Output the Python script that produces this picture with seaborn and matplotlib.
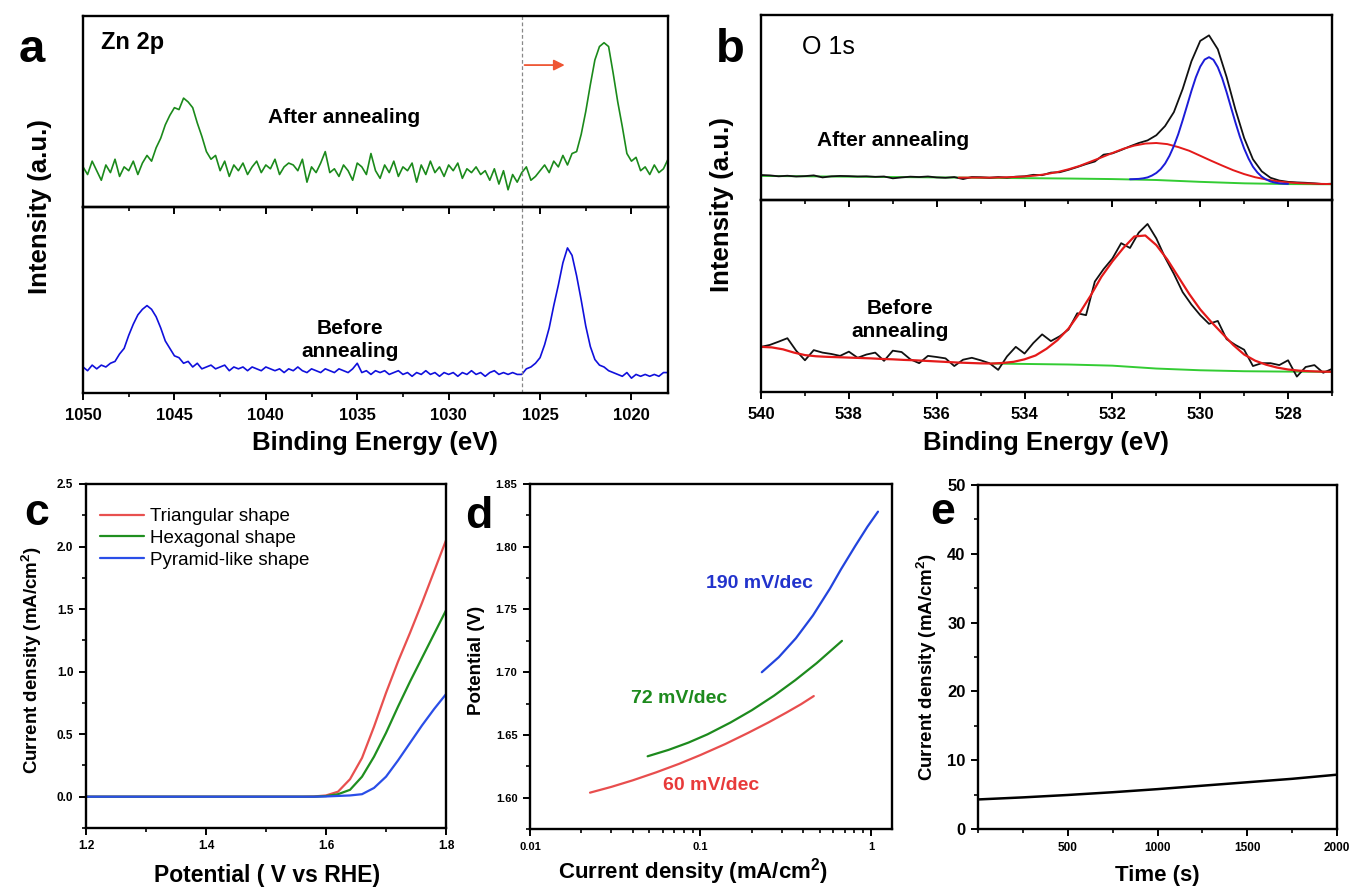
import numpy as np
import seaborn as sns
import matplotlib.pyplot as plt
from matplotlib.ticker import MultipleLocator, FormatStrFormatter, LogLocator, NullFormatter, FixedLocator, FixedFormatter

# ---------------- data ----------------
# panel a: Zn 2p, normalised intensity on a 0.25 eV grid from 1050 to 1018 eV
zn_after = [0.21, 0.17, 0.24, 0.19, 0.14, 0.22, 0.18, 0.25, 0.16, 0.21, 0.19, 0.24, 0.17,
            0.23, 0.27, 0.24, 0.31, 0.36, 0.43, 0.48, 0.52, 0.51, 0.57, 0.55, 0.52, 0.44,
            0.37, 0.29, 0.25, 0.27, 0.19, 0.24, 0.16, 0.22, 0.19, 0.23, 0.17, 0.21, 0.24,
            0.18, 0.22, 0.20, 0.25, 0.17, 0.21, 0.23, 0.22, 0.19, 0.25, 0.13, 0.21, 0.18,
            0.23, 0.29, 0.18, 0.20, 0.16, 0.22, 0.19, 0.14, 0.23, 0.21, 0.17, 0.28, 0.19,
            0.15, 0.22, 0.18, 0.24, 0.16, 0.21, 0.19, 0.23, 0.13, 0.22, 0.17, 0.24, 0.18,
            0.21, 0.16, 0.22, 0.19, 0.23, 0.15, 0.20, 0.18, 0.21, 0.17, 0.19, 0.14, 0.20,
            0.12, 0.19, 0.09, 0.17, 0.13, 0.18, 0.21, 0.14, 0.16, 0.19, 0.22, 0.18, 0.24,
            0.21, 0.27, 0.22, 0.28, 0.29, 0.38, 0.50, 0.64, 0.77, 0.84, 0.86, 0.84, 0.70,
            0.55, 0.42, 0.28, 0.24, 0.26, 0.19, 0.21, 0.17, 0.22, 0.18, 0.20, 0.25]
zn_before = [0.14, 0.12, 0.15, 0.13, 0.15, 0.14, 0.16, 0.17, 0.21, 0.24, 0.31, 0.37, 0.42,
             0.45, 0.47, 0.45, 0.41, 0.35, 0.28, 0.24, 0.20, 0.19, 0.16, 0.17, 0.14, 0.16,
             0.13, 0.14, 0.15, 0.13, 0.14, 0.15, 0.12, 0.14, 0.13, 0.14, 0.12, 0.14, 0.13,
             0.12, 0.14, 0.13, 0.12, 0.13, 0.11, 0.13, 0.12, 0.14, 0.12, 0.11, 0.13, 0.12,
             0.11, 0.13, 0.12, 0.11, 0.13, 0.12, 0.11, 0.13, 0.16, 0.11, 0.12, 0.10, 0.12,
             0.11, 0.12, 0.10, 0.11, 0.12, 0.10, 0.11, 0.09, 0.11, 0.10, 0.12, 0.10, 0.11,
             0.09, 0.11, 0.10, 0.11, 0.09, 0.11, 0.10, 0.12, 0.10, 0.11, 0.09, 0.11, 0.12,
             0.10, 0.11, 0.10, 0.11, 0.10, 0.10, 0.13, 0.14, 0.16, 0.19, 0.26, 0.35, 0.47,
             0.58, 0.70, 0.78, 0.74, 0.63, 0.50, 0.36, 0.25, 0.18, 0.15, 0.14, 0.12, 0.11,
             0.10, 0.09, 0.11, 0.08, 0.10, 0.09, 0.10, 0.09, 0.10, 0.09, 0.11, 0.11]
zn_energy = np.linspace(1050, 1018, len(zn_after))

# panel b: O 1s, after annealing (top)
o_top_raw = [0.135, 0.133, 0.128, 0.131, 0.127, 0.129, 0.133, 0.122, 0.128, 0.130, 0.129,
             0.127, 0.128, 0.125, 0.127, 0.117, 0.122, 0.126, 0.124, 0.127, 0.122, 0.120,
             0.124, 0.113, 0.124, 0.123, 0.120, 0.124, 0.121, 0.126, 0.128, 0.136, 0.134,
             0.148, 0.150, 0.163, 0.178, 0.194, 0.208, 0.245, 0.252, 0.270, 0.290, 0.308,
             0.322, 0.350, 0.400, 0.475, 0.600, 0.750, 0.860, 0.890, 0.815, 0.665, 0.490,
             0.335, 0.220, 0.155, 0.120, 0.105, 0.098, 0.095, 0.093, 0.090, 0.086, 0.088]
o_raw_energy = np.linspace(540, 527, len(o_top_raw))
o_top_red = [0.121, 0.121, 0.121, 0.121, 0.122, 0.124, 0.127, 0.132, 0.140, 0.151, 0.166,
             0.184, 0.207, 0.230, 0.254, 0.277, 0.294, 0.305, 0.308, 0.302, 0.286, 0.266,
             0.239, 0.212, 0.186, 0.161, 0.140, 0.123, 0.111, 0.101, 0.095, 0.091, 0.089,
             0.087, 0.086]
o_top_red_energy = np.linspace(535.5, 527, len(o_top_red))
o_top_blue = [0.112, 0.113, 0.114, 0.117, 0.122, 0.132, 0.146, 0.167, 0.197, 0.239, 0.292,
              0.356, 0.431, 0.510, 0.590, 0.663, 0.721, 0.759, 0.772, 0.758, 0.718, 0.658,
              0.583, 0.501, 0.420, 0.344, 0.278, 0.224, 0.180, 0.149, 0.126, 0.111, 0.100,
              0.094, 0.090, 0.088, 0.087]
o_top_blue_energy = np.linspace(531.6, 528.0, len(o_top_blue))
o_top_bg = [0.130, 0.128, 0.126, 0.124, 0.122, 0.120, 0.118, 0.116, 0.113, 0.108, 0.098,
            0.090, 0.086, 0.085]
o_top_bg_energy = np.linspace(540, 527, len(o_top_bg))

# panel b: O 1s, before annealing (bottom)
o_bot_raw = [0.235, 0.245, 0.262, 0.280, 0.215, 0.165, 0.218, 0.205, 0.198, 0.188, 0.210,
             0.178, 0.195, 0.205, 0.162, 0.215, 0.208, 0.170, 0.150, 0.188, 0.182, 0.175,
             0.135, 0.168, 0.178, 0.165, 0.150, 0.115, 0.185, 0.235, 0.200, 0.255, 0.300,
             0.265, 0.290, 0.325, 0.410, 0.400, 0.575, 0.640, 0.695, 0.775, 0.750, 0.830,
             0.875, 0.800, 0.700, 0.615, 0.520, 0.455, 0.400, 0.355, 0.370, 0.275, 0.245,
             0.220, 0.135, 0.150, 0.150, 0.140, 0.165, 0.080, 0.130, 0.140, 0.100, 0.120]
o_bot_red = [0.235, 0.232, 0.222, 0.205, 0.192, 0.186, 0.183, 0.181, 0.179, 0.177, 0.175,
             0.172, 0.170, 0.167, 0.165, 0.162, 0.159, 0.156, 0.153, 0.151, 0.149, 0.148,
             0.151, 0.157, 0.170, 0.190, 0.225, 0.270, 0.330, 0.410, 0.500, 0.600, 0.680,
             0.750, 0.810, 0.815, 0.765, 0.690, 0.600, 0.510, 0.430, 0.365, 0.305, 0.245,
             0.195, 0.163, 0.142, 0.127, 0.117, 0.111, 0.108, 0.106, 0.105]
o_bot_red_energy = np.linspace(540, 527, len(o_bot_red))
o_bot_bg_energy = [534.75, 534.0, 533.0, 532.0, 531.0, 530.0, 529.0, 528.0, 527.0]
o_bot_bg = [0.148, 0.146, 0.143, 0.137, 0.122, 0.113, 0.108, 0.106, 0.105]

# panel c: LSV curves
lsv_potential = [1.20, 1.30, 1.40, 1.50, 1.56, 1.58, 1.60, 1.62, 1.64, 1.66, 1.68, 1.70,
                 1.72, 1.74, 1.76, 1.78, 1.80]
lsv_triangular = [0, 0, 0, 0, 0, 0.002, 0.01, 0.04, 0.14, 0.31, 0.56, 0.83, 1.08, 1.31,
                  1.55, 1.80, 2.05]
lsv_hexagonal = [0, 0, 0, 0, 0, 0.0, 0.005, 0.02, 0.055, 0.16, 0.32, 0.51, 0.72, 0.92,
                 1.11, 1.30, 1.49]
lsv_pyramid = [0, 0, 0, 0, 0, 0.0, 0.002, 0.006, 0.010, 0.020, 0.07, 0.16, 0.29, 0.43,
               0.57, 0.70, 0.82]
lsv_labels = ["Triangular shape", "Hexagonal shape", "Pyramid-like shape"]

# panel d: Tafel plots
tafel_red_j = [0.0225, 0.03, 0.04, 0.055, 0.075, 0.1, 0.14, 0.19, 0.25, 0.32, 0.39, 0.462]
tafel_red_v = [1.604, 1.6086, 1.6138, 1.6202, 1.6270, 1.634, 1.6428, 1.6516, 1.6599,
               1.6679, 1.6746, 1.681]
tafel_green_j = [0.049, 0.065, 0.085, 0.11, 0.15, 0.2, 0.27, 0.36, 0.48, 0.676]
tafel_green_v = [1.633, 1.6381, 1.6439, 1.6505, 1.6599, 1.6697, 1.6813, 1.6937, 1.7072,
                 1.725]
tafel_blue_j = [0.229, 0.288, 0.363, 0.457, 0.575, 0.667, 0.812, 0.954, 1.1]
tafel_blue_v = [1.700, 1.712, 1.7271, 1.7453, 1.7667, 1.782, 1.801, 1.816, 1.828]

# panel e: chronoamperometry
time_s = [0, 250, 500, 750, 1000, 1250, 1500, 1750, 2000]
current_e = [4.3, 4.6, 4.95, 5.35, 5.8, 6.3, 6.8, 7.3, 7.9]

# ---------------- style ----------------
sns.set_theme(style="ticks")
plt.rcParams['font.family'] = ['Liberation Sans', 'DejaVu Sans']
plt.rcParams['font.weight'] = 'bold'
plt.rcParams['text.color'] = 'black'
plt.rcParams['axes.labelcolor'] = 'black'
plt.rcParams['xtick.color'] = 'black'
plt.rcParams['ytick.color'] = 'black'
plt.rcParams['mathtext.fontset'] = 'custom'
plt.rcParams['mathtext.rm'] = 'Liberation Sans:bold'
plt.rcParams['mathtext.it'] = 'Liberation Sans:bold'
plt.rcParams['mathtext.bf'] = 'Liberation Sans:bold'
plt.rcParams['mathtext.default'] = 'rm'

W, H = 1352, 888
fig = plt.figure(figsize=(W / 100, H / 100), dpi=100)


def px(x, y):
    return x / W, 1 - y / H


def style_ax(ax, size):
    ax.set_facecolor('none')
    for s in ax.spines.values():
        s.set_visible(True)
        s.set_linewidth(1.7)
        s.set_color('black')
    ax.tick_params(which='major', direction='out', length=5, width=1.4, labelsize=size,
                   pad=4, colors='black')
    ax.tick_params(which='minor', direction='out', length=3, width=1.2, colors='black')
    ax.tick_params(top=False, right=False)
    ax.set_xlabel('')
    ax.set_ylabel('')


# ---------------- panel a ----------------
ax_a1 = fig.add_axes([0.0614, 0.7669, 0.4327, 0.2151])
ax_a2 = fig.add_axes([0.0614, 0.5574, 0.4327, 0.2095])
sns.lineplot(x=zn_energy, y=zn_after, ax=ax_a1, color='#1b8a1b', linewidth=1.2)
sns.lineplot(x=zn_energy, y=zn_before, ax=ax_a2, color='#1010dc', linewidth=1.2)
for ax in (ax_a1, ax_a2):
    style_ax(ax, 12)
    ax.set_xlim(1050, 1018)
    ax.set_ylim(0, 1)
    ax.set_yticks([])
    ax.xaxis.set_major_locator(MultipleLocator(5))
    ax.xaxis.set_minor_locator(MultipleLocator(2.5))
    ax.xaxis.set_major_formatter(FormatStrFormatter('%d'))
    ax.axvline(1026, color='#888888', linestyle=(0, (3, 2)), linewidth=0.9)
ax_a1.tick_params(labelbottom=False)
ax_a2.tick_params(axis='x', pad=6)
ax_a1.annotate('', xy=(1023.5, 0.743), xytext=(1026, 0.743),
               arrowprops=dict(arrowstyle='-|>', color='#ee5533', lw=1.3, mutation_scale=16))
ax_a1.text(1049.0, 0.86, 'Zn 2p', fontsize=17, ha='left', va='center')
ax_a1.text(1035.7, 0.47, 'After annealing', fontsize=15, ha='center', va='center')
ax_a2.text(1035.4, 0.285, 'Before\nannealing', fontsize=15, ha='center', va='center',
           linespacing=1.25)
fig.text(*px(32, 50), 'a', fontsize=34, ha='center', va='center')
fig.text(*px(40, 207), 'Intensity (a.u.)', fontsize=18.5, rotation=90, ha='center', va='center')
fig.text(*px(375, 443), 'Binding Energy (eV)', fontsize=18.5, ha='center', va='center')

# ---------------- panel b ----------------
ax_b1 = fig.add_axes([0.5629, 0.7748, 0.4223, 0.2083])
ax_b2 = fig.add_axes([0.5629, 0.5586, 0.4223, 0.2162])
sns.lineplot(x=o_top_bg_energy, y=o_top_bg, ax=ax_b1, color='#33cc33', linewidth=1.4)
sns.lineplot(x=o_raw_energy, y=o_top_raw, ax=ax_b1, color='#111111', linewidth=1.3)
sns.lineplot(x=o_top_red_energy, y=o_top_red, ax=ax_b1, color='#e41a1a', linewidth=1.4)
sns.lineplot(x=o_top_blue_energy, y=o_top_blue, ax=ax_b1, color='#1c1cd8', linewidth=1.4)
sns.lineplot(x=o_bot_bg_energy, y=o_bot_bg, ax=ax_b2, color='#33cc33', linewidth=1.4)
sns.lineplot(x=o_raw_energy, y=o_bot_raw, ax=ax_b2, color='#111111', linewidth=1.3)
sns.lineplot(x=o_bot_red_energy, y=o_bot_red, ax=ax_b2, color='#e41a1a', linewidth=1.6)
for ax in (ax_b1, ax_b2):
    style_ax(ax, 12)
    ax.set_xlim(540, 527)
    ax.set_ylim(0, 1)
    ax.set_yticks([])
    ax.xaxis.set_major_locator(MultipleLocator(2))
    ax.xaxis.set_minor_locator(MultipleLocator(1))
    ax.xaxis.set_major_formatter(FormatStrFormatter('%d'))
ax_b1.tick_params(labelbottom=False)
ax_b2.tick_params(axis='x', pad=6)
ax_b1.text(539.07, 0.827, 'O 1s', fontsize=18, fontweight='normal', ha='left', va='center')
ax_b1.text(537.0, 0.324, 'After annealing', fontsize=15, ha='center', va='center')
ax_b2.text(536.84, 0.375, 'Before\nannealing', fontsize=15, ha='center', va='center',
           linespacing=1.25)
fig.text(*px(730, 50), 'b', fontsize=34, ha='center', va='center')
fig.text(*px(722, 205), 'Intensity (a.u.)', fontsize=18.5, rotation=90, ha='center', va='center')
fig.text(*px(1046, 443), 'Binding Energy (eV)', fontsize=18.5, ha='center', va='center')

# ---------------- panel c ----------------
ax_c = fig.add_axes([0.0636, 0.0676, 0.2663, 0.3874])
for vals, col, lab in zip([lsv_triangular, lsv_hexagonal, lsv_pyramid],
                          ['#e8504f', '#1f8f1f', '#2a4ee8'], lsv_labels):
    sns.lineplot(x=lsv_potential, y=vals, ax=ax_c, color=col, linewidth=1.6, label=lab)
style_ax(ax_c, 8.5)
ax_c.set_xlim(1.2, 1.8)
ax_c.set_ylim(-0.25, 2.5)
ax_c.xaxis.set_major_locator(MultipleLocator(0.2))
ax_c.xaxis.set_minor_locator(MultipleLocator(0.1))
ax_c.yaxis.set_major_locator(MultipleLocator(0.5))
ax_c.yaxis.set_minor_locator(MultipleLocator(0.25))
ax_c.xaxis.set_major_formatter(FormatStrFormatter('%.1f'))
ax_c.yaxis.set_major_formatter(FormatStrFormatter('%.1f'))
ax_c.legend(loc='upper left', bbox_to_anchor=(0.04, 0.93), frameon=False,
            prop={'weight': 'normal', 'size': 13.5}, handlelength=2.35,
            handletextpad=0.3, labelspacing=0.25, borderaxespad=0, borderpad=0)
fig.text(*px(37, 513), 'c', fontsize=32, ha='center', va='center')
fig.text(*px(32, 660), 'Current density (mA/cm$^2$)', fontsize=13.5, rotation=90,
         ha='center', va='center')
fig.text(*px(267, 875), 'Potential ( V vs RHE)', fontsize=16.5, ha='center', va='center')

# ---------------- panel d ----------------
ax_d = fig.add_axes([0.3920, 0.0664, 0.2678, 0.3885])
sns.lineplot(x=tafel_red_j, y=tafel_red_v, ax=ax_d, color='#e84e4e', linewidth=1.6)
sns.lineplot(x=tafel_green_j, y=tafel_green_v, ax=ax_d, color='#1d8a1d', linewidth=1.6)
sns.lineplot(x=tafel_blue_j, y=tafel_blue_v, ax=ax_d, color='#2244dd', linewidth=1.6)
ax_d.set_xscale('log')
style_ax(ax_d, 8)
ax_d.set_xlim(0.01, 1.33)
ax_d.set_ylim(1.575, 1.85)
ax_d.xaxis.set_major_locator(FixedLocator([0.01, 0.1, 1]))
ax_d.xaxis.set_major_formatter(FixedFormatter(['0.01', '0.1', '1']))
ax_d.xaxis.set_minor_locator(LogLocator(base=10, subs=np.arange(2, 10)))
ax_d.xaxis.set_minor_formatter(NullFormatter())
ax_d.yaxis.set_major_locator(MultipleLocator(0.05))
ax_d.yaxis.set_minor_locator(MultipleLocator(0.025))
ax_d.yaxis.set_major_formatter(FormatStrFormatter('%.2f'))
ax_d.text(0.222, 1.771, '190 mV/dec', color='#2233cc', fontsize=14, ha='center', va='center')
ax_d.text(0.0745, 1.679, '72 mV/dec', color='#1d8a1d', fontsize=14, ha='center', va='center')
ax_d.text(0.116, 1.610, '60 mV/dec', color='#e83a3a', fontsize=14, ha='center', va='center')
fig.text(*px(479, 517), 'd', fontsize=32, ha='center', va='center')
fig.text(*px(476, 660), 'Potential (V)', fontsize=13.5, rotation=90, ha='center', va='center')
fig.text(*px(693, 872), 'Current density (mA/cm$^2$)', fontsize=16, ha='center', va='center')

# ---------------- panel e ----------------
ax_e = fig.add_axes([0.7234, 0.0664, 0.2655, 0.3874])
sns.lineplot(x=time_s, y=current_e, ax=ax_e, color='black', linewidth=1.8)
style_ax(ax_e, 8.5)
ax_e.set_xlim(0, 2000)
ax_e.set_ylim(0, 50)
ax_e.xaxis.set_major_locator(FixedLocator([500, 1000, 1500, 2000]))
ax_e.xaxis.set_minor_locator(MultipleLocator(250))
ax_e.yaxis.set_major_locator(MultipleLocator(10))
ax_e.yaxis.set_minor_locator(MultipleLocator(5))
ax_e.tick_params(axis='y', labelsize=12)
fig.text(*px(943, 512), 'e', fontsize=32, ha='center', va='center')
fig.text(*px(927, 667), 'Current density (mA/cm$^2$)', fontsize=13.5, rotation=90,
         ha='center', va='center')
fig.text(*px(1157, 875), 'Time (s)', fontsize=16, ha='center', va='center')

fig.savefig('out.png', dpi=100)
